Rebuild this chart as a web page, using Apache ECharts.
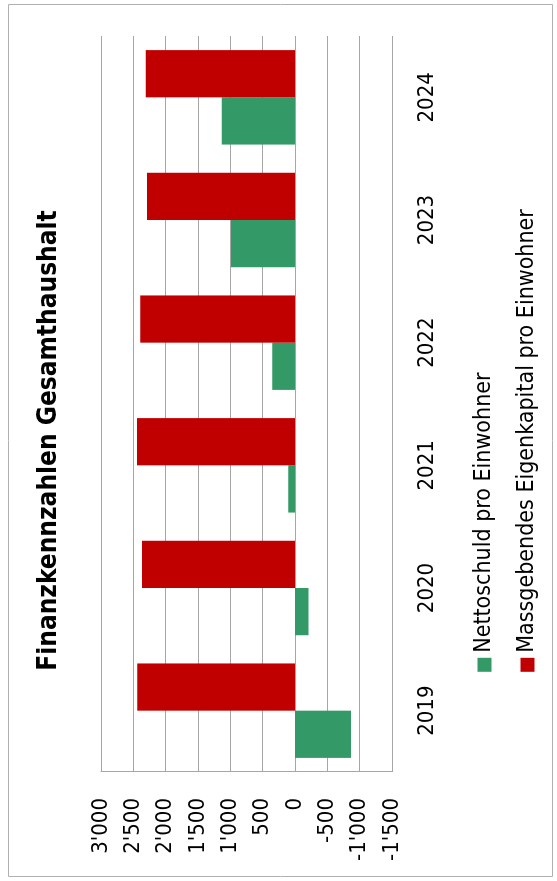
<!DOCTYPE html>
<html>
<head>
<meta charset="utf-8">
<script src="https://cdn.jsdelivr.net/npm/echarts@6/dist/echarts.min.js"></script>
<style>
  html, body {
    margin: 0;
    padding: 0;
    width: 557px;
    height: 881px;
    overflow: hidden;
    background: #fff;
  }
  /* the chart is drawn as a normal column chart and turned on its side */
  #chart {
    position: absolute;
    left: -162px;
    top: 162px;
    width: 881px;
    height: 557px;
    transform: rotate(-90deg);
  }
</style>
</head>
<body>
<div id="chart"></div>
<script>
var years = ['2019', '2020', '2021', '2022', '2023', '2024']
var nettoschuld = [-865, -207, 104, 352, 989, 1134]
var eigenkapital = [2440, 2365, 2443, 2392, 2288, 2309]
var seriesNames = ['Nettoschuld pro Einwohner', 'Massgebendes Eigenkapital pro Einwohner']
var titleText = 'Finanzkennzahlen Gesamthaushalt'

var font = "'Liberation Sans Narrow', 'DejaVu Sans Condensed', sans-serif"

function swissNumber(v) {
  var s = String(Math.abs(v)).replace(/\B(?=(\d{3})+(?!\d))/g, "'")
  return v < 0 ? '-' + s : s
}

var chart = echarts.init(document.getElementById('chart'), null, { renderer: 'canvas' })
chart.setOption({
  animation: false,
  color: ['#339966', '#C00000'],
  title: {
    text: titleText,
    left: 'center',
    top: 31,
    textStyle: {
      fontFamily: font,
      fontSize: 26,
      fontWeight: 'bold',
      color: '#000'
    }
  },
  legend: {
    data: seriesNames,
    orient: 'vertical',
    left: 'center',
    top: 468,
    itemGap: 20,
    itemWidth: 14,
    itemHeight: 14,
    icon: 'rect',
    textStyle: {
      fontFamily: font,
      fontSize: 23,
      color: '#000'
    }
  },
  grid: {
    left: 109,
    right: 36,
    top: 101,
    bottom: 165
  },
  xAxis: {
    type: 'category',
    data: years,
    axisLine: { show: false },
    axisTick: { show: false },
    axisLabel: {
      margin: 24,
      fontFamily: font,
      fontSize: 22,
      color: '#000'
    }
  },
  yAxis: {
    type: 'value',
    min: -1500,
    max: 3000,
    interval: 500,
    axisLine: { show: true, lineStyle: { color: '#a6a6a6', width: 1 } },
    axisTick: { show: false },
    splitLine: { lineStyle: { color: '#a6a6a6', width: 1 } },
    axisLabel: {
      margin: 26,
      fontFamily: font,
      fontSize: 22,
      color: '#000',
      formatter: swissNumber
    }
  },
  graphic: [
    {
      type: 'rect',
      shape: { x: 4.5, y: 8.5, width: 872, height: 544 },
      style: { fill: null, stroke: '#b0b0b0', lineWidth: 1 },
      silent: true
    }
  ],
  series: [
    {
      name: seriesNames[0],
      type: 'bar',
      barGap: '0%',
      barCategoryGap: '23%',
      data: nettoschuld
    },
    {
      name: seriesNames[1],
      type: 'bar',
      barGap: '0%',
      barCategoryGap: '23%',
      data: eigenkapital
    }
  ]
})
</script>
</body>
</html>
